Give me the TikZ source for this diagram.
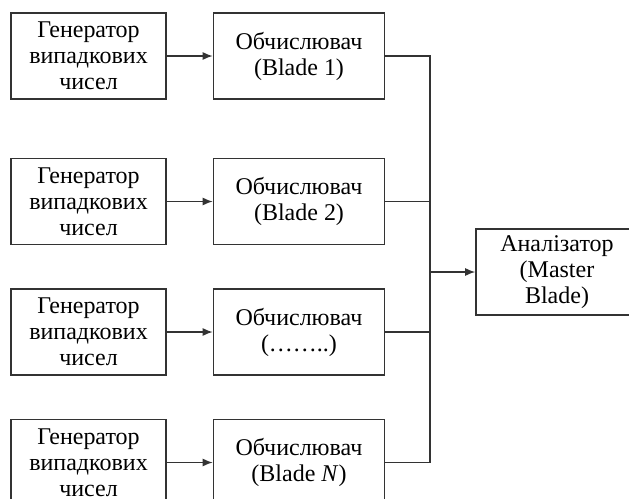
\documentclass[tikz,border=0pt]{standalone}
\usepackage{fontspec}
\setmainfont{Liberation Serif}
\usetikzlibrary{arrows.meta,positioning}

\begin{document}
\begin{tikzpicture}[
    x=0.5pt, y=-0.5pt,
    node distance=21.5pt and 23pt,
    every node/.style={
        font=\fontsize{12}{13}\selectfont
    },
    genbox/.style={
        draw,
        rectangle,
        line width=0.75pt,
        draw=black!80,
        align=center,
        inner sep=0pt,
        minimum width=77.5pt,
        minimum height=43pt
    },
    calcbox/.style={
        genbox,
        minimum width=85.5pt
    },
    arrow/.style={-{Latex[length=5pt,width=4pt]}, line width=0.75pt, draw=black!80},
    wire/.style={line width=0.75pt, draw=black!80}
]
\useasboundingbox (0,0) rectangle (629,499);

%--- Generators ---%
\node[genbox] (gen1) at (88.5,56) {Генератор\\випадкових\\чисел};
\node[genbox, below=29pt of gen1] (gen2) {Генератор\\випадкових\\чисел};
\node[genbox, below=of gen2] (gen3) {Генератор\\випадкових\\чисел};
\node[genbox, below=of gen3] (gen4) {Генератор\\випадкових\\чисел};

%--- Calculators ---%
\node[calcbox, right=of gen1] (calc1) {Обчислювач\\(Blade 1)};
\node[calcbox, right=of gen2] (calc2) {Обчислювач\\(Blade 2)};
\node[calcbox, right=of gen3] (calc3) {Обчислювач\\(……..)};
\node[calcbox, right=of gen4] (calc4) {Обчислювач\\(Blade \textit{N})};

%--- Analyzer (cut off at the right edge) ---%
\node[genbox, minimum width=81pt] (analyzer) at (557,272) {Аналізатор\\(Master\\Blade)};
\coordinate (bus) at (430,272);

%--- Arrows ---%
\draw[arrow] (gen1) -- (calc1);
\draw[arrow] (gen2) -- (calc2);
\draw[arrow] (gen3) -- (calc3);
\draw[arrow] (gen4) -- (calc4);

\draw[wire] (calc1.east) -| (bus);
\draw[wire] (calc2.east) -| (bus);
\draw[wire] (calc3.east) -| (bus);
\draw[wire] (calc4.east) -| (bus);
\draw[arrow] (bus) -- (analyzer);

\end{tikzpicture}
\end{document}
